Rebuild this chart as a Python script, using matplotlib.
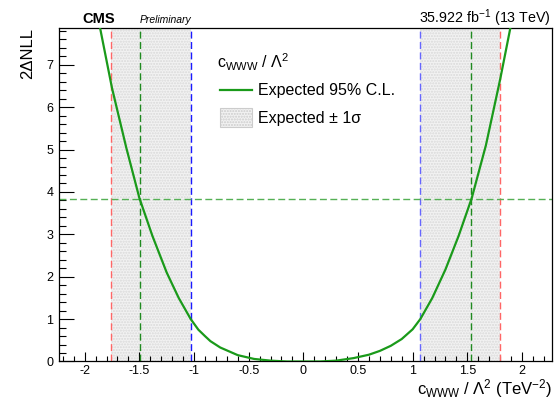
import matplotlib
matplotlib.use("Agg")
import matplotlib.pyplot as plt
from matplotlib.ticker import MultipleLocator, FormatStrFormatter
from matplotlib.patches import Rectangle
from matplotlib.lines import Line2D

plt.rcParams['font.family'] = ['Liberation Sans', 'DejaVu Sans']
plt.rcParams['mathtext.fontset'] = 'custom'
plt.rcParams['mathtext.rm'] = 'Liberation Sans'
plt.rcParams['mathtext.it'] = 'Liberation Sans:italic'
plt.rcParams['axes.unicode_minus'] = False

# 2*DeltaNLL scan
c_www = [-1.88, -1.86, -1.75, -1.62, -1.50, -1.38, -1.25, -1.14, -1.03, -0.96, -0.90, -0.85,
         -0.76, -0.60, -0.45, -0.30, -0.15, 0.00, 0.15, 0.30, 0.46, 0.60, 0.70,
         0.80, 0.90, 1.00, 1.07, 1.18, 1.30, 1.42, 1.54, 1.67, 1.80, 1.90, 1.92]
nll2 = [8.15, 7.88, 6.45, 5.05, 3.86, 2.96, 2.10, 1.50, 1.00, 0.75, 0.60, 0.48,
        0.33, 0.15, 0.06, 0.02, 0.00, 0.00, 0.00, 0.02, 0.08, 0.16, 0.25,
        0.37, 0.53, 0.76, 1.00, 1.50, 2.17, 2.96, 3.85, 5.10, 6.65, 7.95, 8.25]

# expected limits
one_sigma = [(-1.76, -1.03), (1.068, 1.80)]
exp_95 = [-1.494, 1.537]
cl95_level = 3.84

fig = plt.figure(figsize=(5.57, 3.99), dpi=100)
ax = fig.add_axes([0.1059, 0.094, 0.8846, 0.835])

for lo, hi in one_sigma:
    ax.axvspan(lo, hi, facecolor='#f2f2f2', edgecolor='#d9d9d9', hatch='......', linewidth=0, zorder=1)

dash = (0, (5, 2.5))
ax.axvline(one_sigma[0][0], color='#ff6666', ls=dash, lw=1, zorder=2)
ax.axvline(one_sigma[0][1], color='#1a1aff', ls=dash, lw=1, zorder=2)
ax.axvline(one_sigma[1][0], color='#6666ff', ls=dash, lw=1, zorder=2)
ax.axvline(one_sigma[1][1], color='#ff6666', ls=dash, lw=1, zorder=2)
for x in exp_95:
    ax.axvline(x, color='#1f8a1f', ls=dash, lw=1, zorder=2)
ax.axhline(cl95_level, color='#55b055', ls=dash, lw=1, zorder=2)

ax.plot(c_www, nll2, color='#1a9a1a', lw=1.6, zorder=3, solid_joinstyle='round')

ax.set_xlim(-2.235, 2.272)
ax.set_ylim(0, 7.86)

ax.xaxis.set_major_locator(MultipleLocator(0.5))
ax.xaxis.set_minor_locator(MultipleLocator(0.1))
ax.yaxis.set_major_locator(MultipleLocator(1))
ax.yaxis.set_minor_locator(MultipleLocator(0.2))
ax.xaxis.set_major_formatter(FormatStrFormatter('%g'))
ax.yaxis.set_major_formatter(FormatStrFormatter('%g'))
ax.tick_params(axis='x', which='major', direction='in', length=6.5, width=0.8, labelsize=9, pad=2.5)
ax.tick_params(axis='x', which='minor', direction='in', length=3.4, width=0.8)
ax.tick_params(axis='y', which='major', direction='in', length=10.5, width=0.8, labelsize=9, pad=4)
ax.tick_params(axis='y', which='minor', direction='in', length=5, width=0.8)
for s in ax.spines.values():
    s.set_linewidth(0.9)

ax.set_ylabel('2ΔNLL', fontsize=12, loc='top', labelpad=8)
ax.set_xlabel(r'c$_{\mathrm{WWW}}$ / $\Lambda^{2}$ (TeV$^{-2}$)', fontsize=12, loc='right', labelpad=0)

# header texts
fig.text(82 / 557, 1 - 23 / 399, 'CMS', fontsize=10.5, fontweight='bold', ha='left', va='baseline')
fig.text(140 / 557, 1 - 23 / 399, 'Preliminary', fontsize=7.5, style='italic', ha='left', va='baseline')
fig.text(551 / 557, 1 - 23 / 399, r'35.922 fb$^{-1}$ (13 TeV)', fontsize=10.3, ha='right', va='baseline')

# legend drawn by hand (no frame)
fig.text(217 / 557, 1 - 68 / 399, r'c$_{\mathrm{WWW}}$ / $\Lambda^{2}$', fontsize=11.5, ha='left', va='baseline')
fig.add_artist(Line2D([220 / 557, 252 / 557], [1 - 90 / 399, 1 - 90 / 399], color='#1a9a1a', lw=1.6,
                      transform=fig.transFigure))
fig.text(258 / 557, 1 - 90 / 399, 'Expected 95% C.L.', fontsize=11.5, ha='left', va='center')
fig.add_artist(Rectangle((220 / 557, 1 - 127 / 399), 32 / 557, 19 / 399, facecolor='#f2f2f2',
                         edgecolor='#cccccc', hatch='......', lw=0.8, transform=fig.transFigure))
fig.text(258 / 557, 1 - 118 / 399, 'Expected ± 1σ', fontsize=11.5, ha='left', va='center')

fig.savefig('out.png', dpi=100)
